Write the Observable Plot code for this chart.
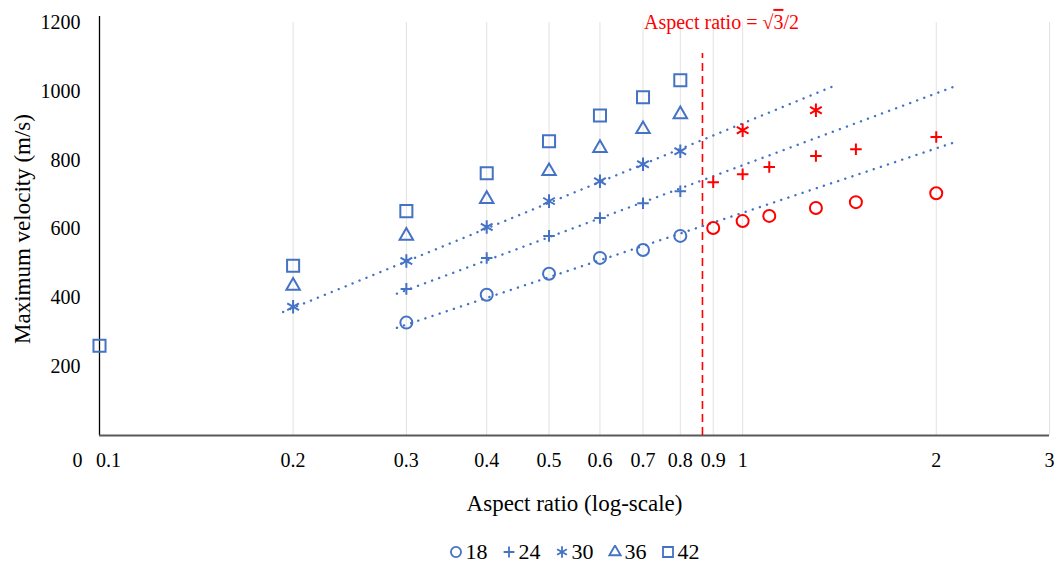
<!DOCTYPE html>
<html><head><meta charset="utf-8">
<script src="https://cdn.jsdelivr.net/npm/d3@7"></script>
<script src="https://cdn.jsdelivr.net/npm/@observablehq/plot@0.6"></script>
<style>
body{margin:0;background:#fff;font-family:"Liberation Serif","Times New Roman",serif;}
#chart svg{display:block}
#legend{display:flex;justify-content:center;align-items:center;gap:14px;margin-left:89px;width:970px;height:34px;margin-top:10px;font-size:22px;color:#000;}
#legend .item{display:flex;align-items:center;gap:3px}
#legend svg{display:block}
</style></head><body><div id="chart"></div><div id="legend"></div>
<script>
// ---- data ----
const seriesNames = ["18", "24", "30", "36", "42"];
const seriesSymbols = ["circle", "plus", "asterisk", "triangle", "square"];

const aspectBlue = [0.1, 0.2, 0.3, 0.4, 0.5, 0.6, 0.7, 0.8];
const v18Blue = [null, null, 328, 409, 470, 516, 539, 580];
const v24Blue = [null, null, 426, 516, 580, 632, 675, 710];
const v30Blue = [null, 374, 507, 606, 681, 739, 788, 826];
const v36Blue = [null, 435, 580, 687, 768, 835, 890, 933];
const v42Blue = [261, 493, 652, 762, 855, 930, 983, 1032];

const aspectRed = [0.9, 1.0, 1.1, 1.3, 1.5, 2.0];
const v18Red = [603, 623, 638, 661, 678, 704];
const v24Red = [736, 759, 780, 812, 832, 867];
const v30Red = [null, 887, null, 945, null, null];

// dotted trend lines (series 18, 24, 30): start/end aspect ratio and velocity
const trendSeries = ["18", "24", "30"];
const trendAspectStart = [0.29, 0.29, 0.193];
const trendAspectEnd = [2.136, 2.122, 1.405];
const trendVelStart = [313, 412, 359];
const trendVelEnd = [852, 1012, 1020];

const criticalRatio = Math.sqrt(3) / 2;
const criticalLineTop = 1110;

const xTicks = [0.2, 0.3, 0.4, 0.5, 0.6, 0.7, 0.8, 0.9, 1, 2, 3];
const xFirstTick = [0.1];
const yTicks = [200, 400, 600, 800, 1000, 1200];

// ---- build table ----
const blueValues = [v18Blue, v24Blue, v30Blue, v36Blue, v42Blue];
const redValues = [v18Red, v24Red, v30Red, null, null];
const rows = [];
seriesNames.forEach((s, i) => {
  blueValues[i].forEach((v, j) => { if (v != null) rows.push({series: s, aspect: aspectBlue[j], velocity: v, group: "below"}); });
  if (redValues[i]) redValues[i].forEach((v, j) => { if (v != null) rows.push({series: s, aspect: aspectRed[j], velocity: v, group: "above"}); });
});
const trends = trendSeries.map((s, i) => ({series: s, x1: trendAspectStart[i], x2: trendAspectEnd[i], y1: trendVelStart[i], y2: trendVelEnd[i]}));

const BLUE = "#4472C4", RED = "#FF0000";
const symbolR = {circle: 6, plus: 3.8, asterisk: 6.4, triangle: 5.0, square: 6.8};

const dotMarks = seriesNames.map((s, i) => Plot.dot(rows.filter(d => d.series === s), {
  x: "aspect", y: "velocity", symbol: seriesSymbols[i], r: symbolR[seriesSymbols[i]],
  stroke: "group", fill: "none", strokeWidth: 2
}));

const chart = Plot.plot({
  width: 1059, height: 525,
  marginTop: 22, marginBottom: 90, marginLeft: 99, marginRight: 10,
  style: {fontFamily: "'Liberation Serif', 'Times New Roman', serif", fontSize: "20px", color: "#000", background: "#fff"},
  x: {type: "log", domain: [0.1, 3], axis: null},
  y: {domain: [0, 1200], axis: null},
  color: {type: "ordinal", domain: ["below", "above"], range: [BLUE, RED]},
  marks: [
    Plot.ruleX(xTicks, {stroke: "#e2e2e2", strokeWidth: 1}),
    Plot.ruleX(xFirstTick, {stroke: "#000", strokeWidth: 1.3, insetTop: -6}),
    Plot.ruleY([0], {stroke: "#595959", strokeWidth: 2}),
    Plot.text(yTicks, {y: d => d, frameAnchor: "left", textAnchor: "end", dx: -19, text: d => String(d), fontSize: 20, fill: "#000"}),
    Plot.text(xTicks, {x: d => d, frameAnchor: "bottom", lineAnchor: "middle", dy: 25, text: d => String(d), fontSize: 20, fill: "#000"}),
    Plot.text(xFirstTick, {x: d => d, frameAnchor: "bottom", lineAnchor: "middle", dy: 25, dx: 9, text: d => String(d), fontSize: 20, fill: "#000"}),
    Plot.text(["0"], {frameAnchor: "bottom-left", textAnchor: "middle", lineAnchor: "middle", dx: -22, dy: 25, fontSize: 20, fill: "#000"}),
    Plot.text(["Maximum velocity (m/s)"], {frameAnchor: "left", textAnchor: "middle", lineAnchor: "middle", dx: -77, rotate: -90, fontSize: 23, fill: "#000"}),
    Plot.text(["Aspect ratio (log-scale)"], {frameAnchor: "bottom", lineAnchor: "middle", dy: 68, fontSize: 23, fill: "#000"}),
    Plot.ruleX([criticalRatio], {y1: 0, y2: criticalLineTop, stroke: RED, strokeWidth: 1.6, strokeDasharray: "8,5"}),
    Plot.text([{x: criticalRatio, y: 1200, t: "Aspect ratio = √3/2"}], {x: "x", y: "y", text: "t", fill: RED, fontSize: 20, dx: 19}),
    Plot.link(trends, {x1: "x1", y1: "y1", x2: "x2", y2: "y2", stroke: BLUE, strokeWidth: 2.4, strokeDasharray: "0.1,7.4", strokeLinecap: "round"}),
    ...dotMarks
  ]
});
document.getElementById("chart").appendChild(chart);

// overline the 3 under the radical
chart.querySelectorAll("text").forEach(t => {
  if (t.textContent === "Aspect ratio = √3/2") {
    const ns = "http://www.w3.org/2000/svg";
    t.textContent = "";
    t.appendChild(document.createTextNode("Aspect ratio = √"));
    const ts = document.createElementNS(ns, "tspan");
    ts.setAttribute("text-decoration", "overline");
    ts.style.textDecoration = "overline";
    ts.textContent = "3";
    t.appendChild(ts);
    t.appendChild(document.createTextNode("/2"));
  }
});

// legend
const symMap = {circle: d3.symbolCircle, plus: d3.symbolPlus, asterisk: d3.symbolAsterisk, triangle: d3.symbolTriangle, square: d3.symbolSquare};
const legSize = {circle: 80, plus: 40, asterisk: 90, triangle: 55, square: 100};
const legend = d3.select("#legend");
seriesNames.forEach((s, i) => {
  const item = legend.append("div").attr("class", "item");
  const svg = item.append("svg").attr("width", 14).attr("height", 14);
  svg.append("path").attr("transform", "translate(7,7)")
    .attr("d", d3.symbol(symMap[seriesSymbols[i]], legSize[seriesSymbols[i]])())
    .attr("fill", "none").attr("stroke", BLUE).attr("stroke-width", 1.8);
  item.append("span").text(s);
});
</script></body></html>
